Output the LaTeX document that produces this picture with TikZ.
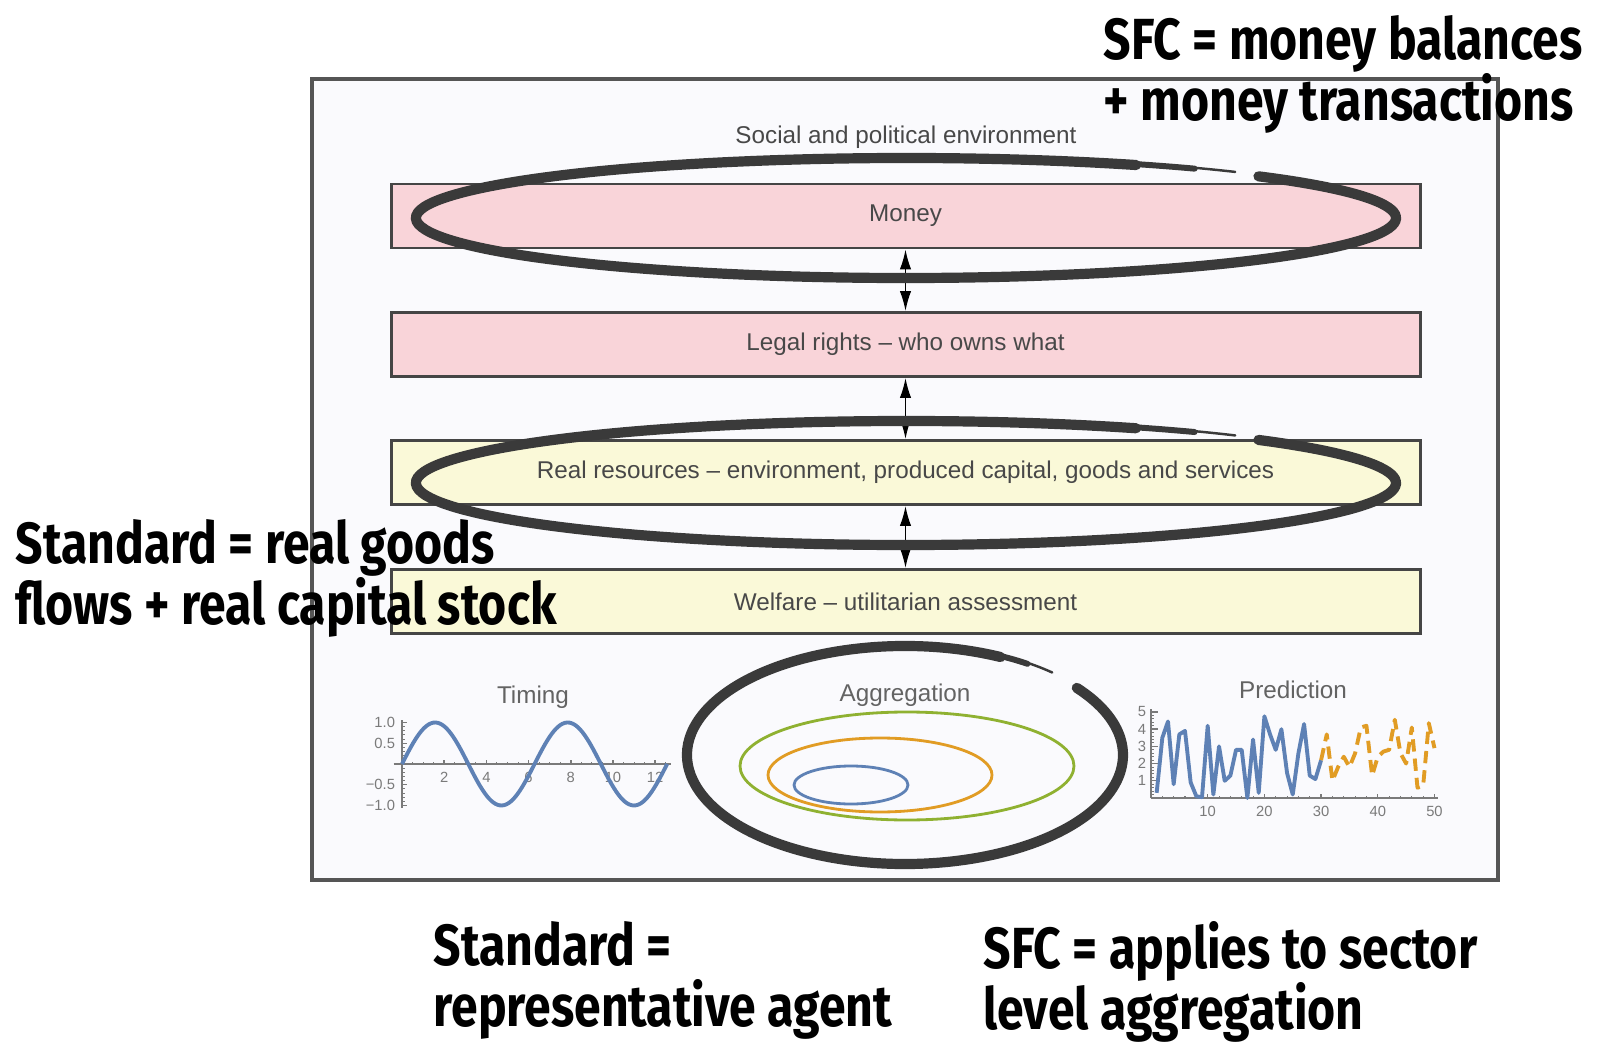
\documentclass[tikz,border=0pt]{standalone}
\usepackage{fontspec}
\setmainfont{Liberation Sans}
\newfontfamily\handfont{Fira Sans}[FakeStretch=0.83]
\usetikzlibrary{arrows.meta}

\definecolor{framefill}{HTML}{FAFAFD}
\definecolor{framedraw}{HTML}{555555}
\definecolor{moneypink}{HTML}{F9D4D9}
\definecolor{realyellow}{HTML}{FAF9D8}
\definecolor{boxdraw}{HTML}{454545}
\definecolor{inkgray}{HTML}{3A3A3A}
\definecolor{plotblue}{HTML}{5E81B5}
\definecolor{plotorange}{HTML}{E19C24}
\definecolor{plotgreen}{HTML}{8FB131}
\definecolor{axisgray}{HTML}{7A7A7A}
\definecolor{labelgray}{HTML}{484848}

\begin{document}
\begin{tikzpicture}[x=0.1mm, y=-0.1mm,
  layer/.style={draw=boxdraw, line width=0.85pt, minimum width=102.9mm, minimum height=6.4mm, inner sep=0pt, text=labelgray, font=\fontsize{6.9}{8}\selectfont},
  title/.style={text=labelgray!85, font=\fontsize{6.9}{8}\selectfont},
  ticklab/.style={text=axisgray, font=\fontsize{4.2}{5}\selectfont, inner sep=0.6pt},
  updown/.style={{Latex[length=2mm,width=1.15mm]}-{Latex[length=2mm,width=1.15mm]}, line width=0.45pt},
  handring/.style={draw=inkgray, line width=2.9pt, line cap=round},
  handnote/.style={anchor=north west, inner sep=0pt, align=left, font=\handfont\bfseries\fontsize{16.5}{17.4}\selectfont}]
\useasboundingbox (0,0) rectangle (1600,1050);
\draw[draw=framedraw, fill=framefill, line width=0.9pt] (312,79) rectangle (1498,880);
\node[text=labelgray] (env) at (906,137) {\fontsize{6.9}{8}\selectfont Social and political environment};

\node[layer, fill=moneypink] (money) at (905.5,216) {Money};
\node[layer, fill=moneypink] (legal) at (905.5,344.5) {Legal rights – who owns what};
\node[layer, fill=realyellow] (real) at (905.5,472.5) {Real resources – environment, produced capital, goods and services};
\node[layer, fill=realyellow] (welfare) at (905.5,601.5) {Welfare – utilitarian assessment};
\draw[updown] (money.south) -- (legal.north);
\draw[updown] (legal.south) -- (real.north);
\draw[updown] (real.south) -- (welfare.north);

\node[title] (timing) at (533,697) {Timing};
\begin{scope}[xshift=40.2mm, yshift=-76.4mm, x=2.11mm, y=4.15mm]
\draw[axisgray, line width=0.4pt] (-0.4,0) -- (12.75,0);
\draw[axisgray, line width=0.4pt] (0,-1.05) -- (0,1.05);
\foreach \t in {0.5,1,...,12.5} \draw[axisgray, line width=0.3pt] (\t,0) -- (\t,0.05);
\foreach \t in {2,4,...,12} {
  \draw[axisgray, line width=0.4pt] (\t,0) -- (\t,0.09);
  \node[ticklab, below=1.5pt] at (\t,0) {\t};
}
\foreach \t in {-1,-0.9,...,1.01} \draw[axisgray, line width=0.3pt] (0,\t) -- (0.12,\t);
\foreach \t/\lab in {1/1.0, 0.5/0.5, -0.5/−0.5, -1/−1.0} {
  \draw[axisgray, line width=0.4pt] (0,\t) -- (0.25,\t);
  \node[ticklab, left=1.2pt] at (0,\t) {\lab};
}
\draw[plotblue, line width=1.1pt] plot[domain=0:12.57, samples=120, smooth] (\x, {sin(\x r)});
\end{scope}

\node[title] (aggr) at (905,695) {Aggregation};
\draw[plotgreen, line width=0.8pt] (907,766) ellipse[x radius=167, y radius=54];
\draw[plotorange, line width=0.8pt] (880,775) ellipse[x radius=112, y radius=37];
\draw[plotblue, line width=0.8pt] (851,785) ellipse[x radius=57, y radius=19];

\node[title] (pred) at (1293,690) {Prediction};
\begin{scope}[xshift=115.1mm, yshift=-79.8mm, x=0.567mm, y=1.72mm]
\draw[axisgray, line width=0.4pt] (0,0) -- (50.6,0);
\draw[axisgray, line width=0.4pt] (0,0) -- (0,5.15);
\foreach \t in {2,4,...,50} \draw[axisgray, line width=0.3pt] (\t,0) -- (\t,0.12);
\foreach \t in {10,20,...,50} {
  \draw[axisgray, line width=0.4pt] (\t,0) -- (\t,0.22);
  \node[ticklab, below=1.5pt] at (\t,0) {\t};
}
\foreach \t in {0.2,0.4,...,5.01} \draw[axisgray, line width=0.3pt] (0,\t) -- (0.6,\t);
\foreach \t in {1,...,5} {
  \draw[axisgray, line width=0.4pt] (0,\t) -- (1.2,\t);
  \node[ticklab, left=0.6pt] at (0,\t) {\t};
}
\draw[plotblue, line width=1.1pt, line join=round] plot coordinates {(1,0.3) (2,3.5) (3,4.45) (4,0.8) (5,3.7) (6,3.9) (7,0.9) (8,0.1) (9,0.05) (10,4.2) (11,0.2) (12,3.0) (13,1.0) (14,1.3) (15,2.8) (16,2.8) (17,0) (18,3.4) (19,0.3) (20,4.75) (21,3.7) (22,2.8) (23,4.0) (24,1.45) (25,0.2) (26,2.6) (27,4.3) (28,1.3) (29,1.1) (30,2.2)};
\draw[plotorange, line width=1.1pt, line join=round, dash pattern=on 3.5pt off 2pt] plot coordinates {(30,2.2) (31,3.7) (32,1.0) (33,1.8) (34,2.4) (35,1.8) (36,2.6) (37,4.1) (38,4.2) (39,1.3) (40,2.4) (41,2.7) (42,2.8) (43,4.55) (44,2.6) (45,2.0) (46,4.1) (47,0.6) (48,0.7) (49,4.35) (50,2.9)};
\end{scope}

\draw[handring] (906,218) ++(-62:490 and 60) arc[start angle=-62, end angle=-404, x radius=490, y radius=60];
\draw[inkgray, line width=1.7pt, line cap=round] (906,218) ++(-63:491 and 61) arc[start angle=-63, end angle=-54, x radius=491, y radius=61];
\draw[inkgray, line width=0.7pt, line cap=round] (906,218) ++(-55:492 and 62) arc[start angle=-55, end angle=-48, x radius=492, y radius=62];
\draw[handring] (906,483) ++(-62:490 and 62) arc[start angle=-62, end angle=-404, x radius=490, y radius=62];
\draw[inkgray, line width=1.7pt, line cap=round] (906,483) ++(-63:491 and 63) arc[start angle=-63, end angle=-54, x radius=491, y radius=63];
\draw[inkgray, line width=0.7pt, line cap=round] (906,483) ++(-55:492 and 64) arc[start angle=-55, end angle=-48, x radius=492, y radius=64];
\draw[handring] (905,755) ++(-64:218 and 109) arc[start angle=-64, end angle=-398, x radius=218, y radius=109];
\draw[inkgray, line width=1.7pt, line cap=round] (905,755) ++(-65:219 and 110) arc[start angle=-65, end angle=-56, x radius=219, y radius=110];
\draw[inkgray, line width=0.7pt, line cap=round] (905,755) ++(-57:220 and 111) arc[start angle=-57, end angle=-48, x radius=220, y radius=111];

\node[handnote] (sfctop) at (1103,15) {SFC = money balances\\+ money transactions};
\node[handnote] (stdleft) at (15,519) {Standard = real goods\\flows + real capital stock};
\node[handnote] (stdbottom) at (433,921) {Standard =\\representative agent};
\node[handnote] (sfcbottom) at (983,921) {SFC = applies to sector\\level aggregation};
\end{tikzpicture}
\end{document}
